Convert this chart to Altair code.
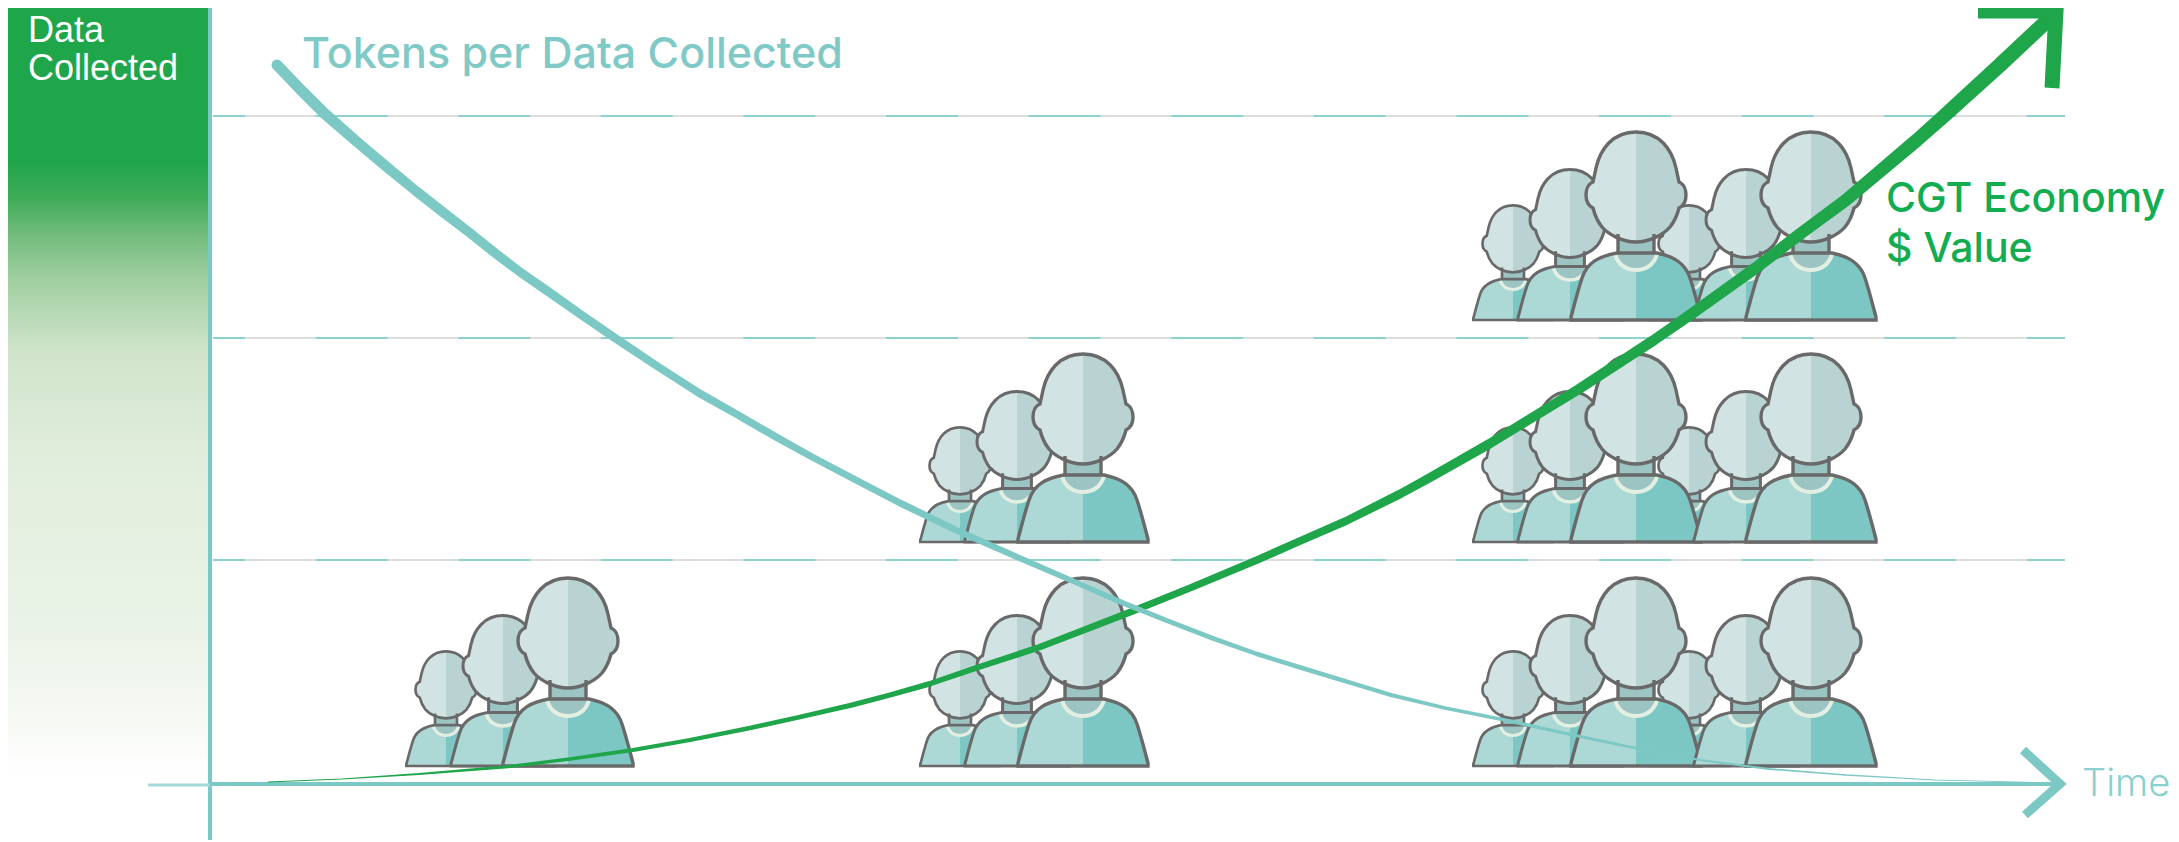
import altair as alt
import pandas as pd

# ---- data (in reference pixel units) ----
teal_x = [277, 300, 324, 356, 388, 416, 444, 470, 495, 520, 546, 580, 615, 657, 699, 738, 776, 814, 852, 900, 958, 1024, 1075, 1123, 1168, 1212, 1257, 1302, 1391, 1445, 1500, 1573, 1635, 1700, 1769, 1846, 1935, 2058]
teal_y = [65, 89, 113, 141, 168, 191, 213, 233, 253, 272, 290, 314, 338, 366, 393, 415, 437, 458, 478, 503, 531, 560, 582, 603, 621, 638, 654, 668, 695, 708, 719, 735, 748, 760, 769, 775, 780, 783]
teal_w = [11, 11, 11, 10.5, 10.5, 10, 10, 9.5, 9.5, 9, 9, 8.5, 8.5, 8, 8, 7.5, 7.5, 7, 7, 7, 6.5, 6, 5.5, 5.5, 5, 5, 4.5, 4.5, 4, 3.5, 3.5, 3, 2.6, 2.2, 1.8, 1.4, 1, 0.5]

green_x = [268, 342, 419, 505, 570, 633, 690, 750, 800, 852, 890, 929, 976, 1040, 1128, 1190, 1257, 1300, 1346, 1400, 1431, 1489, 1579, 1654, 1690, 1757, 1800, 1846, 1917, 1944, 2000, 2050]
green_y = [782, 779, 774, 767, 759, 750, 740, 728, 717, 705, 695, 684, 668, 647, 613, 588, 560, 541, 521, 494, 477, 444, 389, 340, 315, 267, 234, 200, 140, 116, 65, 18]
green_w = [0.8, 1.2, 2, 3, 3.5, 4, 4.2, 4.5, 4.8, 5, 5.2, 5.5, 6, 6.5, 7, 7.2, 7.5, 7.8, 8, 8.8, 9, 9.5, 10, 10.5, 11, 11.5, 12, 12.5, 13.5, 14, 15, 15]

grid_y = [116, 338, 560]

people_x = [446, 503, 568,
            960, 1017, 1083,
            960, 1017, 1083,
            1689, 1513, 1570, 1636, 1746, 1811,
            1689, 1513, 1570, 1636, 1746, 1811,
            1689, 1513, 1570, 1636, 1746, 1811]
people_base = [766, 766, 766,
               766, 766, 766,
               542, 542, 542,
               320, 320, 320, 320, 320, 320,
               542, 542, 542, 542, 542, 542,
               766, 766, 766, 766, 766, 766]
people_scale = [0.61, 0.80, 1.0,
                0.61, 0.80, 1.0,
                0.61, 0.80, 1.0,
                0.61, 0.61, 0.80, 1.0, 0.80, 1.0,
                0.61, 0.61, 0.80, 1.0, 0.80, 1.0,
                0.61, 0.61, 0.80, 1.0, 0.80, 1.0]

labels = ["Data", "Collected", "Tokens per Data Collected", "CGT Economy", "$ Value", "Time"]
label_x = [28, 28, 302, 1886, 1886, 2082]
label_y = [42, 80, 68, 212, 262, 796]

# ---- icon glyph (origin at the foot centre; large person = 1 px per unit) ----
BODY = "M-19,-67 C-36,-64 -49,-58 -54,-42 C-58,-30 -62,-14 -65,-3 L-65,0 L65,0 L65,-3 C62,-14 58,-30 54,-42 C49,-58 36,-64 21,-67 Z"
BODY_R = "M0,-67 L21,-67 C36,-64 49,-58 54,-42 C58,-30 62,-14 65,-3 L65,0 L0,0 Z"
NECK = "M-18,-92 L18,-92 L18,-66 L21,-66 C18,-54 8,-50 0,-50 C-8,-50 -18,-54 -21,-66 L-18,-66 Z"
COLLAR = "M-21,-66 C-18,-54 -8,-50 0,-50 C8,-50 18,-54 21,-66"
NECK_SIDES = "M-18,-86 L-18,-66 M18,-86 L18,-66"
HEAD = ("M0,-188 C24,-188 36,-170 40,-152 C41,-147 42,-143 43,-138 C48,-136 50,-130 50,-125 "
        "C50,-119 47,-114 43,-112 C41,-104 38,-98 34,-93 C28,-86 14,-78 0,-78 "
        "C-14,-78 -28,-86 -34,-93 C-38,-98 -41,-104 -43,-112 C-47,-114 -50,-119 -50,-125 "
        "C-50,-130 -48,-136 -43,-138 C-42,-143 -41,-147 -40,-152 C-36,-170 -24,-188 0,-188 Z")
HEAD_R = ("M0,-188 C24,-188 36,-170 40,-152 C41,-147 42,-143 43,-138 C48,-136 50,-130 50,-125 "
          "C50,-119 47,-114 43,-112 C41,-104 38,-98 34,-93 C28,-86 14,-78 0,-78 Z")

OUT = "#696969"
parts = [
    (BODY, "#acd8d6", "transparent", 0),
    (BODY_R, "#7cc7c4", "transparent", 0),
    (NECK, "#9cc4c3", "transparent", 0),
    (COLLAR, "transparent", "#e4efe3", 4),
    (HEAD, "#d1e3e3", "transparent", 0),
    (HEAD_R, "#b9d3d3", "transparent", 0),
    (BODY, "transparent", OUT, 3.4),
    (NECK_SIDES, "transparent", OUT, 3.4),
    (HEAD, "transparent", OUT, 3.4),
]
rows = []
n = 0
for px, pb, ps in zip(people_x, people_base, people_scale):
    for path, fill, stroke, sw in parts:
        rows.append(dict(n=n, x=px, y=pb, size=4 * ps * ps, path=path, fill=fill,
                         stroke=stroke, sw=sw * (0.45 + 0.55 * ps)))
        n += 1
people_df = pd.DataFrame(rows)

# ---- scales: one chart unit is one reference pixel ----
W, H = 2163, 834
sx = alt.Scale(domain=[8, 8 + W], nice=False, zero=False)
sy = alt.Scale(domain=[8 + H, 8], nice=False, zero=False)
X = lambda f="x": alt.X(f"{f}:Q", scale=sx, axis=None)
Y = lambda f="y": alt.Y(f"{f}:Q", scale=sy, axis=None)

grad = alt.LinearGradient(
    gradient="linear", x1=0, y1=0, x2=0, y2=1,
    stops=[
        alt.GradientStop(offset=0.0, color="#1fa54a"),
        alt.GradientStop(offset=0.205, color="#1fa54a"),
        alt.GradientStop(offset=0.255, color="#40ac59"),
        alt.GradientStop(offset=0.30, color="#70bb7b"),
        alt.GradientStop(offset=0.357, color="#a0cea0"),
        alt.GradientStop(offset=0.45, color="#cfe4ca"),
        alt.GradientStop(offset=0.60, color="#e2eedd"),
        alt.GradientStop(offset=0.82, color="#ebf3e8"),
        alt.GradientStop(offset=0.93, color="#f6f9f4"),
        alt.GradientStop(offset=1.0, color="#ffffff"),
    ],
)

panel = alt.Chart(pd.DataFrame({"x": [4], "x2": [210], "y": [2], "y2": [775]})).mark_rect(color=grad).encode(
    x=X(), x2="x2:Q", y=Y(), y2="y2:Q")

grid_df = pd.DataFrame({"x": [213] * len(grid_y), "x2": [2065] * len(grid_y), "y": grid_y})
grid_base = alt.Chart(grid_df).mark_rule(color="#dddddd", strokeWidth=2).encode(x=X(), x2="x2:Q", y=Y())
grid_dash = alt.Chart(grid_df).mark_rule(color="#8ed2cf", strokeWidth=2, strokeDash=[72, 70.6], strokeDashOffset=40).encode(
    x=X(), x2="x2:Q", y=Y())

vaxis = alt.Chart(pd.DataFrame({"x": [210], "y": [0], "y2": [840]})).mark_rule(color="#7cc8c5", strokeWidth=4).encode(
    x=X(), y=Y(), y2="y2:Q")
haxis_left = alt.Chart(pd.DataFrame({"x": [148], "x2": [212], "y": [785]})).mark_rule(color="#a5d9d7", strokeWidth=3).encode(
    x=X(), x2="x2:Q", y=Y())
haxis = alt.Chart(pd.DataFrame({"x": [210], "x2": [2060], "y": [784]})).mark_rule(color="#7cc8c5", strokeWidth=4).encode(
    x=X(), x2="x2:Q", y=Y())

people = alt.Chart(people_df).mark_point(filled=True, opacity=1).encode(
    x=X(), y=Y(),
    size=alt.Size("size:Q", scale=None, legend=None),
    shape=alt.Shape("path:N", scale=None, legend=None),
    fill=alt.Fill("fill:N", scale=None, legend=None),
    stroke=alt.Stroke("stroke:N", scale=None, legend=None),
    strokeWidth=alt.StrokeWidth("sw:Q", scale=None, legend=None),
)

green_df = pd.DataFrame({"x": green_x, "y": green_y, "w": green_w})
green = alt.Chart(green_df).mark_trail(color="#1fa54a", opacity=1).encode(
    x=X(), y=Y(), size=alt.Size("w:Q", scale=None, legend=None))
teal_df = pd.DataFrame({"x": teal_x, "y": teal_y, "w": teal_w})
teal = alt.Chart(teal_df).mark_trail(color="#7cc8c5", opacity=1).encode(
    x=X(), y=Y(), size=alt.Size("w:Q", scale=None, legend=None))

head_green = alt.Chart(pd.DataFrame({"x": [1978, 2056, 2052], "y": [11, 11, 88], "o": [0, 1, 2]})).mark_line(
    color="#1fa54a", strokeWidth=15, strokeJoin="miter", strokeCap="butt").encode(x=X(), y=Y(), order="o:Q")
head_teal = alt.Chart(pd.DataFrame({"x": [2023, 2060, 2025], "y": [750, 784, 815], "o": [0, 1, 2]})).mark_line(
    color="#7cc8c5", strokeWidth=9, strokeJoin="miter", strokeCap="butt").encode(x=X(), y=Y(), order="o:Q")


def text(idx, color, font, size, weight):
    df = pd.DataFrame({"x": [label_x[i] for i in idx], "y": [label_y[i] for i in idx], "t": [labels[i] for i in idx]})
    return alt.Chart(df).mark_text(align="left", baseline="alphabetic", color=color, font=font,
                                   fontSize=size, fontWeight=weight).encode(x=X(), y=Y(), text="t:N")


chart = alt.layer(
    panel, grid_base, grid_dash, vaxis, haxis_left, haxis, people, green, teal, head_green, head_teal,
    text([0, 1], "#ffffff", "Liberation Sans", 36, 400),
    text([2], "#7fc9c6", "Inter", 43, 500),
    text([3, 4], "#12ad50", "Inter", 41, 500),
    text([5], "#8ad0cd", "Inter", 38, 300),
).properties(width=W, height=H, padding=0, background="#ffffff", autosize=alt.AutoSizeParams(type="none")
).configure_view(stroke=None)

chart.save("out.html", embed_options={"renderer": "svg", "actions": False})
